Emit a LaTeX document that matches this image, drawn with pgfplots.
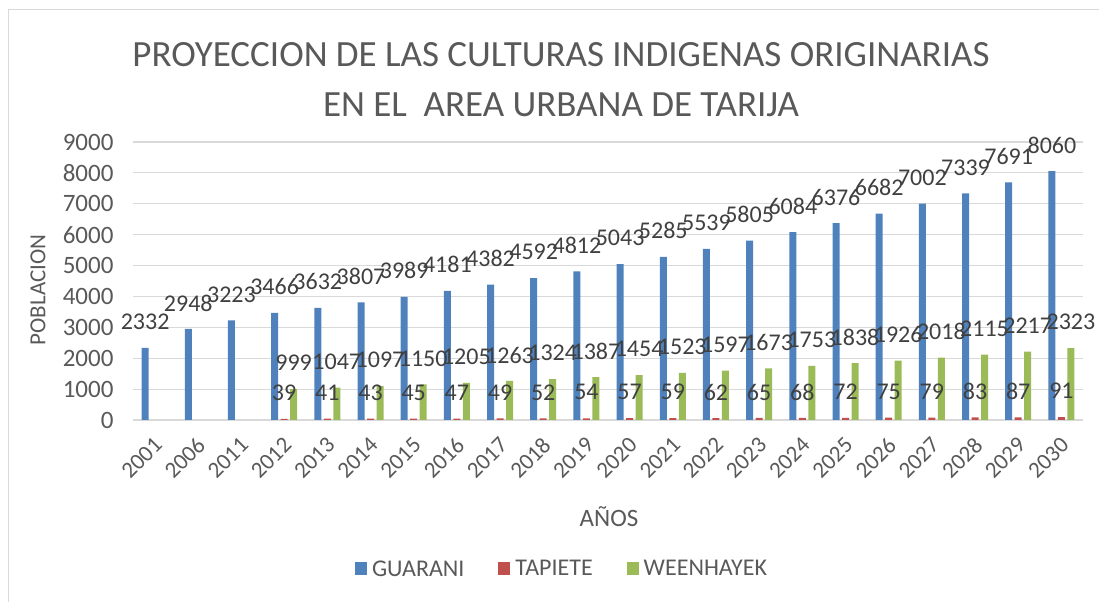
\documentclass[border=0pt]{standalone}
\usepackage{fontspec}
\setmainfont{Carlito}
\usepackage{pgfplots}
\pgfplotsset{compat=1.18}
\definecolor{cblue}{HTML}{4F81BD}
\definecolor{cred}{HTML}{C0504D}
\definecolor{cgreen}{HTML}{9BBB59}
\definecolor{txtgray}{HTML}{595959}
\definecolor{lblgray}{HTML}{404040}
\definecolor{gridgray}{HTML}{D9D9D9}
\begin{document}
\begin{tikzpicture}
\useasboundingbox (0pt,0pt) rectangle (1099pt,602pt);
\draw[gridgray, line width=1pt] (8pt,0pt) -- (8pt,592pt) -- (1099pt,592pt);
\node[text=txtgray, font=\fontsize{37}{42}\selectfont] at (561pt,547pt) {PROYECCION DE LAS CULTURAS INDIGENAS ORIGINARIAS};
\node[text=txtgray, font=\fontsize{37}{42}\selectfont] at (561pt,497pt) {EN EL\ \ AREA URBANA DE TARIJA};
\node[text=txtgray, font=\fontsize{23}{27}\selectfont, rotate=90] at (38pt,312pt) {POBLACION};
\node[text=txtgray, font=\fontsize{25}{29}\selectfont] at (609pt,85pt) {AÑOS};
\begin{axis}[
  at={(133pt,182pt)}, anchor=south west,
  scale only axis, width=950pt, height=278pt,
  ybar=2.5pt, bar width=7pt,
  xmin=-0.5, xmax=21.5, ymin=0, ymax=9000,
  ytick={0,1000,...,9000},
  xtick={0,...,21},
  xticklabels={2001,2006,2011,2012,2013,2014,2015,2016,2017,2018,2019,2020,2021,2022,2023,2024,2025,2026,2027,2028,2029,2030},
  scaled y ticks=false,
  /pgf/number format/assume math mode=true,
  /pgf/number format/fixed,
  /pgf/number format/precision=0,
  /pgf/number format/1000 sep={},
  axis x line*=bottom, axis y line*=left,
  x axis line style={draw=gridgray, line width=1.2pt},
  y axis line style={draw=none},
  major tick length=0pt,
  ymajorgrids, grid style={draw=gridgray, line width=1.2pt},
  yticklabel style={text=txtgray, font=\fontsize{25}{29}\selectfont, xshift=-16pt},
  xticklabel style={text=txtgray, font=\fontsize{23}{27}\selectfont, xshift=6pt, yshift=-19pt, rotate=45, anchor=east},
  nodes near coords,
  every node near coord/.append style={text=lblgray, font=\fontsize{24}{28}\selectfont, anchor=center, yshift=26pt},
  legend columns=3,
  legend style={at={(0.4516,-0.536)}, anchor=center, draw=none, fill=none, text=txtgray, font=\fontsize{24}{28}\selectfont,
    /tikz/every odd column/.append style={column sep=3pt},
    /tikz/every even column/.append style={column sep=32pt}},
  legend image code/.code={\fill[#1,draw=none] (0pt,-6pt) rectangle (12pt,7pt);},
  clip=false,
]
\addplot[fill=cblue, draw=none] coordinates {
(0,2332) (1,2948) (2,3223) (3,3466) (4,3632) (5,3807) (6,3989) (7,4181) (8,4382) (9,4592) (10,4812)
(11,5043) (12,5285) (13,5539) (14,5805) (15,6084) (16,6376) (17,6682) (18,7002) (19,7339) (20,7691) (21,8060)};
\addplot[fill=cred, draw=none] coordinates {
(3,39) (4,41) (5,43) (6,45) (7,47) (8,49) (9,52) (10,54) (11,57) (12,59) (13,62) (14,65) (15,68)
(16,72) (17,75) (18,79) (19,83) (20,87) (21,91)};
\addplot[fill=cgreen, draw=none] coordinates {
(3,999) (4,1047) (5,1097) (6,1150) (7,1205) (8,1263) (9,1324) (10,1387) (11,1454) (12,1523) (13,1597)
(14,1673) (15,1753) (16,1838) (17,1926) (18,2018) (19,2115) (20,2217) (21,2323)};
\legend{GUARANI, TAPIETE, WEENHAYEK}
\end{axis}
\end{tikzpicture}
\end{document}
